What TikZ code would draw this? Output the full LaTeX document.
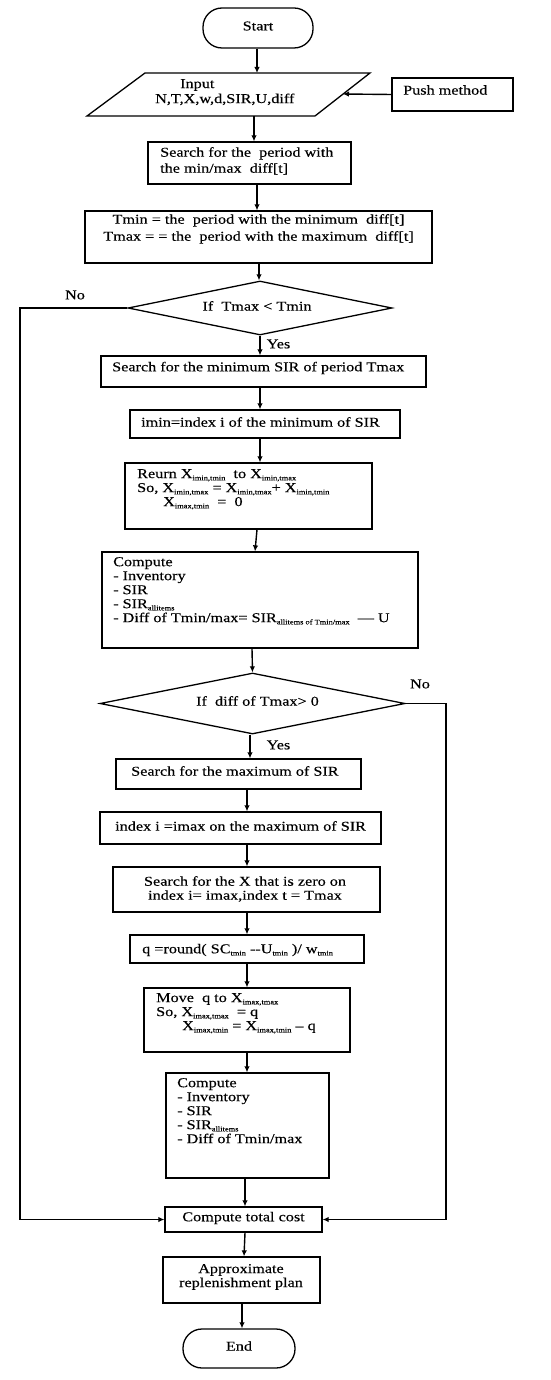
\documentclass[tikz,border=0pt]{standalone}
\usepackage{fontspec}
\setmainfont{Liberation Serif}[FakeStretch=1.2,FakeBold=0.3]
\usetikzlibrary{shapes.geometric,arrows.meta}
\newcommand\sbx[1]{\raisebox{-2.2pt}{\fontsize{7}{7}\selectfont #1}}
\begin{document}
\begin{tikzpicture}[x=1pt,y=-1pt,font=\fontsize{13.5}{14}\selectfont,
  bx/.style={draw,line width=1.3pt,inner sep=0pt},
  term/.style={bx,rounded corners=19pt},
  dec/.style={bx,diamond,aspect=4.9},
  txt/.style={inner sep=0pt,align=left,anchor=north west},
  lbl/.style={inner sep=0pt},
  ln/.style={line width=1.3pt},
  arr/.style={line width=1.4pt,-{Latex[length=6pt,width=5.5pt]}}]
\useasboundingbox (0,0) rectangle (550,1380);
% boxes
\node[term,minimum width=110pt,minimum height=40pt] (start) at (258,28) {};
\node[lbl] (tstart) at (258,26) {Start};
\draw[ln] (145,73) -- (370,73) -- (315,116) -- (87,116) -- cycle;
\node[inner sep=0pt,minimum width=283pt,minimum height=43pt] (input) at (228.5,94.5) {};
\coordinate (inT) at (257,73);
\coordinate (inB) at (254,116);
\coordinate (inR) at (343,94);
\node[txt,font=\fontsize{13.5}{15}\selectfont] (tinput) at (155,79) {\hspace*{25pt}Input\\N,T,X,w,d,SIR,U,diff};
\node[bx,minimum width=121pt,minimum height=33pt] (push) at (452.5,94.5) {};
\node[lbl,anchor=west] (tpush) at (403,90) {Push method};
\node[bx,minimum width=203pt,minimum height=42pt] (search) at (249.5,163) {};
\node[txt,font=\fontsize{13.5}{16}\selectfont] (tsearch) at (160,147) {Search for the\ \ period with\\the min/max\ \ diff[t]};
\node[bx,minimum width=347pt,minimum height=52pt] (tmin) at (258.5,237) {};
\node[txt,anchor=north,align=center,font=\fontsize{13.5}{17}\selectfont] (ttmin) at (258.5,214) {Tmin = the\ \ period with the minimum\ \ diff[t]\\Tmax = = the\ \ period with the maximum\ \ diff[t]};
\node[dec,minimum width=264pt,minimum height=54pt] (dia1) at (260,308) {};
\node[lbl] (tdia1) at (257,306) {If\ \ Tmax < Tmin};
\node[bx,minimum width=325pt,minimum height=31pt] (smin) at (263.5,371.5) {};
\node[lbl,anchor=west] (tsmin) at (112,368) {Search for the minimum SIR of period Tmax};
\node[bx,minimum width=270pt,minimum height=28pt] (imin) at (265,424) {};
\node[lbl,anchor=west] (timin) at (141,422) {imin=index i of the minimum of SIR};
\node[bx,minimum width=247pt,minimum height=66pt] (reurn) at (248.5,496) {};
\node[txt] (treurn) at (137,469) {Reurn X\sbx{imin,tmin}\ \ to X\sbx{imin,tmax}\\So, X\sbx{imin,tmax} = X\sbx{imin,tmax}+ X\sbx{imin,tmin}\\\hspace*{26pt}X\sbx{imax,tmin}\ \ =\ \ 0};
\node[bx,minimum width=316pt,minimum height=96pt] (comp1) at (260,600) {};
\node[txt] (tcomp1) at (113,557) {Compute\\- Inventory\\- SIR\\- SIR\sbx{allitems}\\- Diff of Tmin/max= SIR\sbx{allitems of Tmin/max}\ \ --- U};
\node[dec,minimum width=305pt,minimum height=61pt] (dia2) at (252.5,703.5) {};
\node[lbl] (tdia2) at (257.5,701) {If\ \ diff of Tmax> 0};
\node[bx,minimum width=245pt,minimum height=30pt] (smax) at (238.5,774) {};
\node[lbl,anchor=west] (tsmax) at (131,771) {Search for the maximum of SIR};
\node[bx,minimum width=281pt,minimum height=32pt] (idx) at (240.5,828) {};
\node[lbl,anchor=west] (tidx) at (115,826) {index i =imax on the maximum of SIR};
\node[bx,minimum width=267pt,minimum height=45pt] (sx) at (246.5,889.5) {};
\node[lbl,align=center] (tsx) at (245,889) {Search for the X that is zero on\\index i= imax,index t = Tmax};
\node[bx,minimum width=234pt,minimum height=28pt] (q) at (247,949) {};
\node[lbl,anchor=west] (tq) at (142,950) {q =round( SC\sbx{tmin} {-}{-}U\sbx{tmin} )/ w\sbx{tmin}};
\node[bx,minimum width=206pt,minimum height=64pt] (move) at (247,1020) {};
\node[txt] (tmove) at (156,993) {Move\ \ q to X\sbx{imax,tmax}\\So, X\sbx{imax,tmax}\ \ = q\\\hspace*{26pt}X\sbx{imax,tmin} = X\sbx{imax,tmin} -- q};
\node[bx,minimum width=163pt,minimum height=105pt] (comp2) at (247.5,1125.5) {};
\node[txt] (tcomp2) at (177,1078) {Compute\\- Inventory\\- SIR\\- SIR\sbx{allitems}\\- Diff of Tmin/max};
\node[bx,minimum width=157pt,minimum height=25pt] (total) at (243.5,1219.5) {};
\node[lbl] (ttotal) at (243.5,1218) {Compute total cost};
\node[bx,minimum width=157pt,minimum height=46pt] (approx) at (241.5,1280) {};
\node[lbl,align=center] (tapprox) at (241,1277) {Approximate\\replenishment plan};
\node[term,minimum width=112pt,minimum height=39pt] (end) at (239,1348.5) {};
\node[lbl] (tend) at (239,1346) {End};
% connectors
\draw[arr] ([xshift=-1pt]start.south) -- (inT);
\draw[arr] (push.west) -- (inR);
\draw[arr] (inB) -- ([xshift=4.5pt]search.north);
\draw[arr] ([xshift=7.5pt]search.south) -- ([xshift=-1.5pt]tmin.north);
\draw[arr] ([xshift=0.5pt]tmin.south) -- ([xshift=-1pt]dia1.north);
\draw[arr] (dia1.south) -- ([xshift=-3.5pt]smin.north);
\draw[arr] ([xshift=-3.5pt]smin.south) -- ([xshift=-5pt]imin.north);
\draw[arr] ([xshift=-5pt]imin.south) -- ([xshift=11.5pt]reurn.north);
\draw[arr] ([xshift=8.5pt]reurn.south) -- ([xshift=-5pt]comp1.north);
\draw[arr] ([xshift=-8pt]comp1.south) -- (dia2.north);
\draw[arr] ([xshift=-2.5pt]dia2.south) -- ([xshift=11.5pt]smax.north);
\draw[arr] ([xshift=8.5pt]smax.south) -- ([xshift=6.5pt]idx.north);
\draw[arr] ([xshift=6.5pt]idx.south) -- ([xshift=0.5pt]sx.north);
\draw[arr] ([xshift=0.5pt]sx.south) -- (q.north);
\draw[arr] (q.south) -- (move.north);
\draw[arr] (move.south) -- ([xshift=-0.5pt]comp2.north);
\draw[arr] ([xshift=-2.5pt]comp2.south) -- ([xshift=1.5pt]total.north);
\draw[arr] ([xshift=1.5pt]total.south) -- ([xshift=2.5pt]approx.north);
\draw[arr] ([xshift=0.5pt]approx.south) -- ([xshift=3pt]end.north);
\coordinate (noL) at (20,0);
\coordinate (noR) at (446,0);
\draw[arr,line width=1.3pt] (dia1.west) -- (dia1.west -| noL) -- (noL |- total.west) -- (total.west);
\draw[arr,line width=1.3pt] (dia2.east) -- (dia2.east -| noR) -- (noR |- total.east) -- (total.east);
\node[lbl] (no1) at (75,295) {No};
\node[lbl] (yes1) at (278.5,344) {Yes};
\node[lbl] (no2) at (420,684) {No};
\node[lbl] (yes2) at (278.5,745) {Yes};
\end{tikzpicture}
\end{document}
